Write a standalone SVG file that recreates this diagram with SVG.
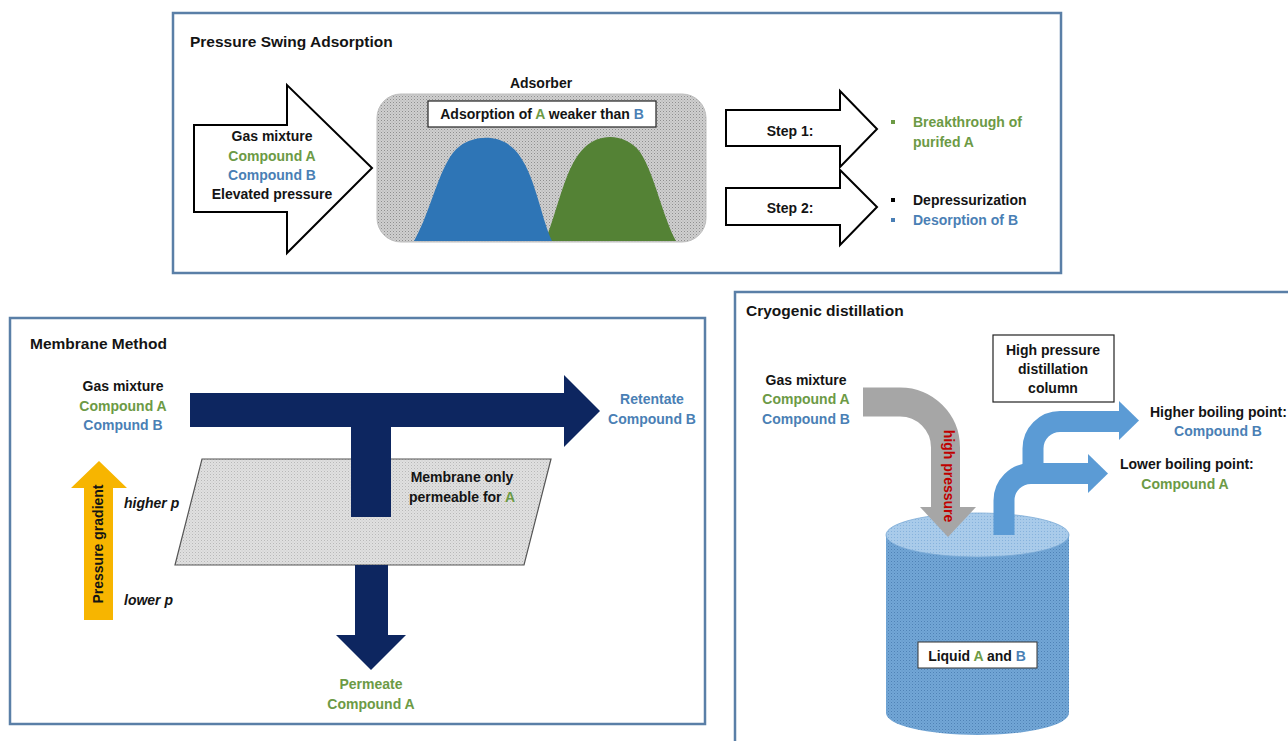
<svg xmlns="http://www.w3.org/2000/svg" width="1288" height="741" viewBox="0 0 1288 741">
<defs>
<style>
.t{font-family:"Liberation Sans",Arial,sans-serif;font-weight:bold;font-size:14px;fill:#141414}
.ttl{font-size:15.5px}
.c{text-anchor:middle}
.g{fill:#6c9a45}
.b{fill:#4a7fb5}
.r{fill:#c00000}
.frame{fill:#fff;stroke:#5a7fa7;stroke-width:2.5}
.box{fill:#fff;stroke:#222;stroke-width:1.2}
.blk{fill:#fff;stroke:#000;stroke-width:2;stroke-linejoin:miter}
.navy{fill:#0d2660}
.lb{fill:#5b9bd5}
</style>
<pattern id="pGray" width="3" height="3" patternUnits="userSpaceOnUse"><rect width="3" height="3" fill="#cfcfcf"/><rect width="1" height="1" fill="#8e8e8e"/><rect x="1.5" y="1.5" width="1" height="1" fill="#a8a8a8"/></pattern>
<pattern id="pMem" width="3" height="3" patternUnits="userSpaceOnUse"><rect width="3" height="3" fill="#e0e0e0"/><rect width="1" height="1" fill="#b8b8b8"/><rect x="1.5" y="1.5" width="1" height="1" fill="#c8c8c8"/></pattern>
<pattern id="pCyl" width="3" height="3" patternUnits="userSpaceOnUse"><rect width="3" height="3" fill="#72a6d6"/><rect width="1" height="1" fill="#4f82b5"/><rect x="1.5" y="1.5" width="1" height="1" fill="#5e91c4"/></pattern>
<pattern id="pTop" width="3" height="3" patternUnits="userSpaceOnUse"><rect width="3" height="3" fill="#a9cbea"/><rect width="1" height="1" fill="#86b2dc"/></pattern>
</defs>
<rect width="1288" height="741" fill="#fff"/>

<!-- ===== Pressure Swing Adsorption ===== -->
<g id="psa-frame">
<rect class="frame" x="173" y="13" width="888" height="260"/>
<text class="t ttl" x="190" y="47">Pressure Swing Adsorption</text>
</g>
<g id="psa-input">
<polygon class="blk" points="194,125 287,125 287,85 372,168 287,253 287,212 194,212"/>
<text class="t c" x="272" y="141">Gas mixture</text>
<text class="t c g" x="272" y="161">Compound A</text>
<text class="t c b" x="272" y="180">Compound B</text>
<text class="t c" x="272" y="199">Elevated pressure</text>
</g>
<g id="adsorber">
<text class="t c" x="541" y="88">Adsorber</text>
<rect x="377" y="94" width="329" height="148" rx="24" fill="url(#pGray)" stroke="#bdbdbd" stroke-width="1"/>
<path d="M545 241 C558 210 565 165 585 147 C600 133 625 133 640 152 C655 175 662 215 676 241 Z" fill="#548235"/>
<path d="M414 241 C432 210 440 160 460 146 C475 135 500 134 515 150 C535 172 540 215 552 241 Z" fill="#2e75b6"/>
<rect class="box" x="428" y="101" width="228" height="26"/>
<text class="t c" x="542" y="119">Adsorption  of <tspan class="g">A</tspan> weaker than <tspan class="b">B</tspan></text>
</g>
<g id="step1">
<polygon class="blk" points="726,110 840,110 840,91 877,129 840,167 840,146 726,146"/>
<text class="t c" x="790" y="136">Step 1:</text>
</g>
<g id="step1-result">
<rect x="891" y="120" width="4" height="4" fill="#6c9a45"/>
<text class="t g" x="913" y="127">Breakthrough  of</text>
<text class="t g" x="913" y="147">purifed A</text>
</g>
<g id="step2">
<polygon class="blk" points="726,188 840,188 840,170 877,207 840,245 840,225 726,225"/>
<text class="t c" x="790" y="213">Step 2:</text>
</g>
<g id="step2-result">
<rect x="891" y="198" width="4" height="4" fill="#000"/>
<text class="t" x="913" y="205">Depressurization</text>
<rect x="891" y="218" width="4" height="4" fill="#4a7fb5"/>
<text class="t b" x="913" y="225">Desorption  of B</text>
</g>

<!-- ===== Membrane Method ===== -->
<g id="membrane-frame">
<rect class="frame" x="10" y="318" width="695" height="406"/>
<text class="t ttl" x="30" y="349">Membrane Method</text>
</g>
<g id="membrane-feed">
<text class="t c" x="123" y="391">Gas mixture</text>
<text class="t c g" x="123" y="411">Compound  A</text>
<text class="t c b" x="123" y="430">Compund  B</text>
</g>
<g id="pressure-gradient">
<polygon points="84,620 113,620 113,488 127,488 99,461 71,488 84,488" fill="#f7b500"/>
<text class="t c" transform="translate(103,544) rotate(-90)" fill="#2a2200">Pressure  gradient</text>
<text class="t" x="124" y="508" font-style="italic">higher p</text>
<text class="t" x="124" y="605" font-style="italic">lower p</text>
</g>
<g id="membrane">
<polygon points="202,459 551,459 524,565 175,565" fill="url(#pMem)" stroke="#555" stroke-width="1.2"/>
</g>
<g id="membrane-label">
<text class="t c" x="462" y="482">Membrane only</text>
<text class="t c" x="462" y="502">permeable for <tspan class="g">A</tspan></text>
</g>
<g id="retentate">
<text class="t c b" x="652" y="404">Retentate</text>
<text class="t c b" x="652" y="424">Compound  B</text>
</g>
<g id="permeate">
<text class="t c g" x="371" y="689">Permeate</text>
<text class="t c g" x="371" y="709">Compound  A</text>
</g>

<!-- ===== Cryogenic distillation ===== -->
<g id="cryo-frame">
<rect class="frame" x="735" y="292" width="570" height="470"/>
<text class="t ttl" x="746" y="316">Cryogenic distillation</text>
</g>
<g id="cryo-feed">
<text class="t c" x="806" y="385">Gas mixture</text>
<text class="t c g" x="806" y="404">Compound  A</text>
<text class="t c b" x="806" y="424">Compound  B</text>
</g>
<g id="column-label">
<rect class="box" x="993" y="335" width="121" height="67"/>
<text class="t c" x="1053" y="355">High pressure</text>
<text class="t c" x="1053" y="374">distillation</text>
<text class="t c" x="1053" y="393">column</text>
</g>
<g id="cylinder">
<path d="M886 535 V713 A91.5 22 0 0 0 1069 713 V535 Z" fill="url(#pCyl)"/>
<ellipse cx="977.5" cy="535" rx="91.5" ry="22" fill="url(#pTop)" stroke="#7aa9d6" stroke-width="0.8"/>
<rect x="918" y="642" width="119" height="26" fill="#fff" stroke="#333" stroke-width="1"/>
<text class="t c" x="977" y="661">Liquid <tspan class="g">A</tspan> and <tspan class="b">B</tspan></text>
</g>
<g id="higher-bp">
<text class="t" x="1150" y="417">Higher boiling point:</text>
<text class="t c b" x="1218" y="436">Compound  B</text>
</g>
<g id="lower-bp">
<text class="t" x="1120" y="469">Lower boiling point:</text>
<text class="t c g" x="1185" y="489">Compound  A</text>
</g>

<!-- ===== Connectors ===== -->
<g id="connectors">
<polygon class="navy" points="190,393 564,393 564,375 600,411 564,447 564,427 391,427 391,517 351,517 351,427 190,427"/>
<polygon class="navy" points="355,565 388,565 388,635 406,635 371,670 336,635 355,635"/>
<path d="M863 402 H900 A45.5 45.5 0 0 1 945.5 447.5 V508" fill="none" stroke="#a6a6a6" stroke-width="29"/>
<polygon points="920,507 976,507 948,537" fill="#a6a6a6"/>
<text class="t c r" transform="translate(944,476) rotate(90)">high pressure</text>
<path d="M1033 474 V448.5 A27 27 0 0 1 1060 421.5 H1120" fill="none" stroke="#5b9bd5" stroke-width="21"/>
<polygon class="lb" points="1119,401 1139,420.5 1119,440"/>
<path d="M1004 535 V500.5 A27 27 0 0 1 1031 473.5 H1089" fill="none" stroke="#5b9bd5" stroke-width="21"/>
<polygon class="lb" points="1088,454 1108,473.5 1088,493"/>
</g>
</svg>
